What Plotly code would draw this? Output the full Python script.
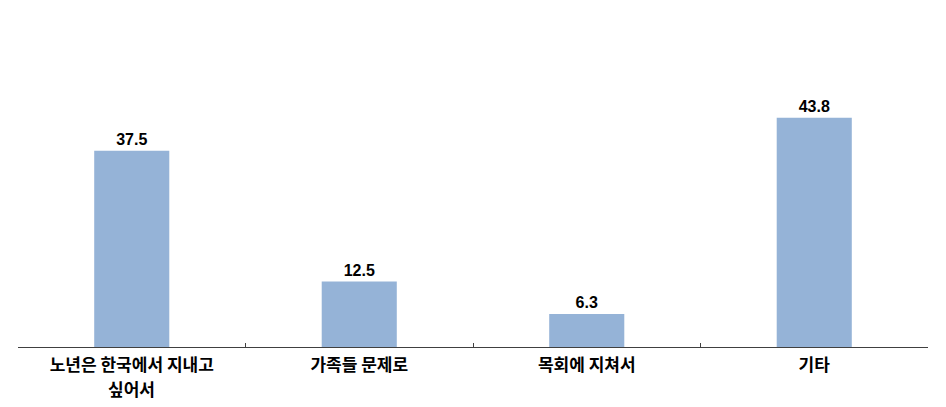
import plotly.graph_objects as go

categories = ["노년은 한국에서 지내고 싶어서", "가족들 문제로", "목회에 지쳐서", "기타"]
label_line1 = ["노년은 한국에서 지내고", "가족들 문제로", "목회에 지쳐서", "기타"]
label_line2 = ["싶어서", "", "", ""]
values = [37.5, 12.5, 6.3, 43.8]
value_labels = ["37.5", "12.5", "6.3", "43.8"]

fig = go.Figure(go.Bar(
    x=categories, y=values,
    marker=dict(color="#95B3D7", line=dict(width=0)),
    text=value_labels, textposition="outside",
    textfont=dict(family="Arial, Liberation Sans", size=16, color="black", weight="bold"),
    cliponaxis=False,
))

label_font = dict(family="Noto Sans CJK KR", size=17, color="black", weight="bold")

for cat, line2 in zip(categories, label_line2):
    if line2:
        fig.add_annotation(
            x=cat, xref="x", y=0, yref="paper",
            text=line2, showarrow=False,
            yanchor="middle", yshift=-41,
            font=label_font,
        )

fig.update_layout(
    width=946, height=407,
    margin=dict(l=10, r=26, t=12, b=68),
    plot_bgcolor="white", paper_bgcolor="white",
    bargap=0.67,
    showlegend=False,
    font=dict(family="Noto Sans CJK KR", size=17, color="black"),
)
fig.update_xaxes(
    showline=True, linecolor="#404040", linewidth=1,
    ticks="inside", ticklen=4, tickcolor="#404040", tickson="boundaries",
    tickmode="array", tickvals=categories, ticktext=label_line1,
    ticklabelstandoff=3,
    tickfont=label_font,
    showgrid=False,
)
fig.update_yaxes(range=[0, 62.5], visible=False, showgrid=False, zeroline=False)

fig.write_html("out.html")
